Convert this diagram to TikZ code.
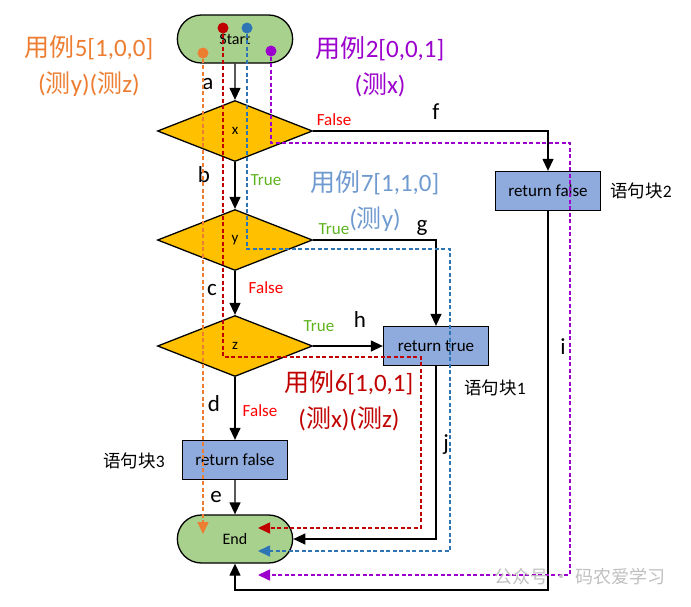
\documentclass[tikz,border=0pt]{standalone}
\usepackage{fontspec}
\setmainfont{Carlito}
\newfontfamily\cjk{Noto Sans CJK SC}
\usetikzlibrary{shapes.geometric,shapes.misc,arrows.meta,positioning}

\definecolor{termfill}{HTML}{A9D18E}
\definecolor{decfill}{HTML}{FFC000}
\definecolor{blockfill}{HTML}{8FAADC}
\definecolor{caseorange}{HTML}{ED7D31}
\definecolor{casepurple}{HTML}{9B00CC}
\definecolor{casered}{HTML}{C00000}
\definecolor{caseblue}{HTML}{2E75B6}
\definecolor{casebluetext}{HTML}{6F9AD0}
\definecolor{truegreen}{HTML}{5FB41E}
\definecolor{falsered}{HTML}{FF0000}

\tikzset{
	terminal/.style = {draw, line width = 1.3pt, rounded rectangle, fill = termfill,
		minimum width = 122pt, minimum height = 48pt, font = \fontsize{16}{16}\selectfont},
	decision/.style = {draw, line width = 1.3pt, diamond, fill = decfill, aspect = 2.5,
		minimum width = 155pt, minimum height = 61pt, inner sep = 0pt, font = \fontsize{15}{15}\selectfont},
	block/.style = {draw, line width = 1.3pt, rectangle, fill = blockfill,
		minimum width = 105pt, minimum height = 39pt, font = \fontsize{17}{17}\selectfont},
	flow/.style = {line width = 1.3pt, -{Triangle[length = 12pt, width = 11pt]}},
	trace/.style = {line width = 1.6pt, dash pattern = on 4pt off 2.5pt, -{Triangle[length = 12pt, width = 11pt]}},
	tracedot/.style = {circle, fill = #1, minimum size = 11pt, inner sep = 0pt},
	edgelabel/.style = {font = \fontsize{23}{23}\selectfont},
	branch/.style = {font = \fontsize{17}{17}\selectfont, text = #1},
	caselabel/.style = {font = \fontsize{25}{36}\selectfont, text = #1, align = center},
	blockname/.style = {font = \fontsize{17.5}{17.5}\selectfont}
}

\begin{document}
\begin{tikzpicture}[x = 1pt, y = -1pt]
	\useasboundingbox (0, 0) rectangle (691, 606);

	% flow chart
	\node[terminal] (start) at (235, 39) {Start};
	\node[decision] (dx) at (235, 131) {x};
	\node[decision] (dy) at (235, 240) {y};
	\node[decision] (dz) at (235, 346) {z};
	\node[block] (rf3) at (235, 460) {return false};
	\node[terminal] (end) at (235, 539) {End};
	\node[block] (rt) at (436, 346) {return true};
	\node[block] (rf2) at (548, 191) {return false};
	\coordinate (ibot) at (548, 590);

	\draw[flow] (start) -- (dx);
	\draw[flow] (dx) -- (dy);
	\draw[flow] (dy) -- (dz);
	\draw[flow] (dz) -- (rf3);
	\draw[flow] (rf3) -- (end);
	\draw[flow] (dx.east) -| (rf2.north);
	\draw[flow] (dy.east) -| (rt.north);
	\draw[flow] (dz.east) -- (rt.west);
	\draw[flow] (rt.south) |- (end.east);
	\draw[flow] (rf2.south) -- (ibot) -| (end.south);

	% edge names
	\node[edgelabel] (la) at (208, 84) {a};
	\node[edgelabel] (lb) at (204, 175) {b};
	\node[edgelabel] (lc) at (212, 290) {c};
	\node[edgelabel] (ld) at (214, 404) {d};
	\node[edgelabel] (le) at (216, 497) {e};
	\node[edgelabel] (lf) at (436, 112) {f};
	\node[edgelabel] (lg) at (422, 228) {g};
	\node[edgelabel] (lh) at (360, 320) {h};
	\node[edgelabel] (li) at (563, 347) {i};
	\node[edgelabel] (lj) at (446, 445) {j};

	% branch names
	\node[branch = falsered] (fx) at (334, 120) {False};
	\node[branch = truegreen] (tx) at (266, 180) {True};
	\node[branch = truegreen] (ty) at (334, 229) {True};
	\node[branch = falsered] (fy) at (266, 288) {False};
	\node[branch = truegreen] (tz) at (319, 326) {True};
	\node[branch = falsered] (fz) at (260, 411) {False};

	% block names
	\node[blockname] (n2) at (641, 191) {{\cjk 语句块}2};
	\node[blockname] (n1) at (495, 388) {{\cjk 语句块}1};
	\node[blockname] (n3) at (134, 461) {{\cjk 语句块}3};

	% test cases
	\node[caselabel = caseorange] (c5) at (89, 66) {{\cjk 用例}5[1,0,0]\\({\cjk 测}y)({\cjk 测}z)};
	\node[caselabel = casepurple] (c2) at (380, 67) {{\cjk 用例}2[0,0,1]\\({\cjk 测}x)};
	\node[caselabel = casebluetext] (c7) at (375, 201) {{\cjk 用例}7[1,1,0]\\({\cjk 测}y)};
	\node[caselabel = casered] (c6) at (349, 401) {{\cjk 用例}6[1,0,1]\\({\cjk 测}x)({\cjk 测}z)};

	% traces
	\node[tracedot = casered] (d6) at (223, 28) {};
	\node[tracedot = caseblue] (d7) at (247, 28) {};
	\node[tracedot = caseorange] (d5) at (203, 53) {};
	\node[tracedot = casepurple] (d2) at (271, 51) {};

	\coordinate (o1) at (203, 534);
	\coordinate (r1) at (421, 357);
	\coordinate (r2) at (258, 528);
	\coordinate (b1) at (450, 249);
	\coordinate (b2) at (258, 551);
	\coordinate (p1) at (570, 143);
	\coordinate (p2) at (258, 575);

	\draw[trace, caseorange] (d5) -- (o1);
	\draw[trace, casered] (d6) |- (r1) |- (r2);
	\draw[trace, caseblue] (d7) |- (b1) |- (b2);
	\draw[trace, casepurple] (d2) |- (p1) |- (p2);

	\node[font = \fontsize{18}{18}\selectfont, text = black!25] (mark) at (580, 577) {{\cjk 公众号 · 码农爱学习}};
\end{tikzpicture}
\end{document}
